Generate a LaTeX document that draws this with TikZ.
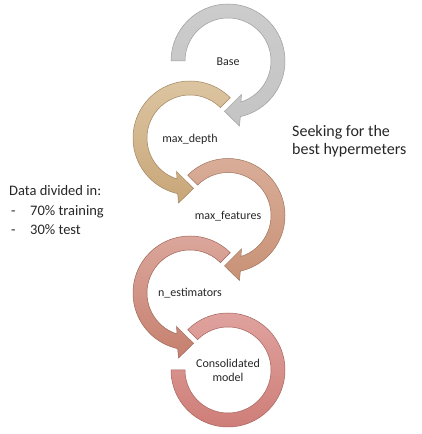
\documentclass[tikz,border=0pt]{standalone}
\usepackage{fontspec}
\setmainfont{Carlito}
\tikzset{
  band/.style={draw=#1!80!black, line width=0.5pt},
  lbl/.style={font=\fontsize{12}{14}\selectfont, text=black!85, align=center, inner sep=0pt},
  side/.style={font=\fontsize{14.5}{18}\selectfont, text=black!85, inner sep=0pt, anchor=base west},
}
\definecolor{g1}{RGB}{204,204,204}\definecolor{g2}{RGB}{196,196,196}
\definecolor{t1}{RGB}{221,198,163}\definecolor{t2}{RGB}{200,166,120}
\definecolor{s1}{RGB}{218,174,154}\definecolor{s2}{RGB}{200,146,118}
\definecolor{p1}{RGB}{220,168,158}\definecolor{p2}{RGB}{198,128,110}
\definecolor{r1}{RGB}{224,164,160}\definecolor{r2}{RGB}{206,124,118}
\begin{document}
\begin{tikzpicture}[x=1pt,y=1pt]
\useasboundingbox (0,0) rectangle (421,434);
% shape 1 : Base (clockwise)
\begin{scope}[shift={(228,373)}]
\path[band=g2, top color=g1, bottom color=g2]
  (180:57) arc[start angle=180, end angle=-77.5, radius=57] -- (-80:66) -- (-94:50.5) -- (-68:36) -- (-72.5:43)
  arc[start angle=-72.5, end angle=180, radius=43] -- cycle;
\end{scope}
% shape 2 : max_depth (counterclockwise)
\begin{scope}[shift={(190,296)}]
\path[band=t2, top color=t1, bottom color=t2]
  (45:57) arc[start angle=45, end angle=257.5, radius=57] -- (260:66) -- (274:50.5) -- (248:36) -- (252.5:43)
  arc[start angle=252.5, end angle=45, radius=43] -- cycle;
\end{scope}
% shape 3 : max_features (clockwise)
\begin{scope}[shift={(228,218.5)}]
\path[band=s2, top color=s1, bottom color=s2]
  (135:57) arc[start angle=135, end angle=-77.5, radius=57] -- (-80:66) -- (-94:50.5) -- (-68:36) -- (-72.5:43)
  arc[start angle=-72.5, end angle=135, radius=43] -- cycle;
\end{scope}
% shape 4 : n_estimators (counterclockwise)
\begin{scope}[shift={(190,141)}]
\path[band=p2, top color=p1, bottom color=p2]
  (45:57) arc[start angle=45, end angle=257.5, radius=57] -- (260:66) -- (274:50.5) -- (248:36) -- (252.5:43)
  arc[start angle=252.5, end angle=45, radius=43] -- cycle;
\end{scope}
% shape 5 : Consolidated model
\begin{scope}[shift={(228,64)}]
\path[band=r2, top color=r1, bottom color=r2]
  (135:57) arc[start angle=135, end angle=-180, radius=57] -- (180:43)
  arc[start angle=-180, end angle=135, radius=43] -- cycle;
\end{scope}
% labels
\node[lbl] (base) at (228,372) {Base};
\node[lbl] (depth) at (190,295) {max\_depth};
\node[lbl] (feat) at (228,218) {max\_features};
\node[lbl] (est) at (190,141) {n\_estimators};
\node[lbl] (cons) at (228,64) {Consolidated\\model};
% side texts
\node[side] (d0) at (9,238) {Data divided in:};
\node[side] (d1) at (11,218) {-};
\node[side] (d1t) at (30,218) {70\% training};
\node[side] (d2) at (11,199) {-};
\node[side] (d2t) at (30,199) {30\% test};
\node[side, font=\fontsize{16}{19}\selectfont] (s0) at (292,297) {Seeking for the};
\node[side, font=\fontsize{16}{19}\selectfont] (s1) at (292,279) {best hypermeters};
\end{tikzpicture}
\end{document}
